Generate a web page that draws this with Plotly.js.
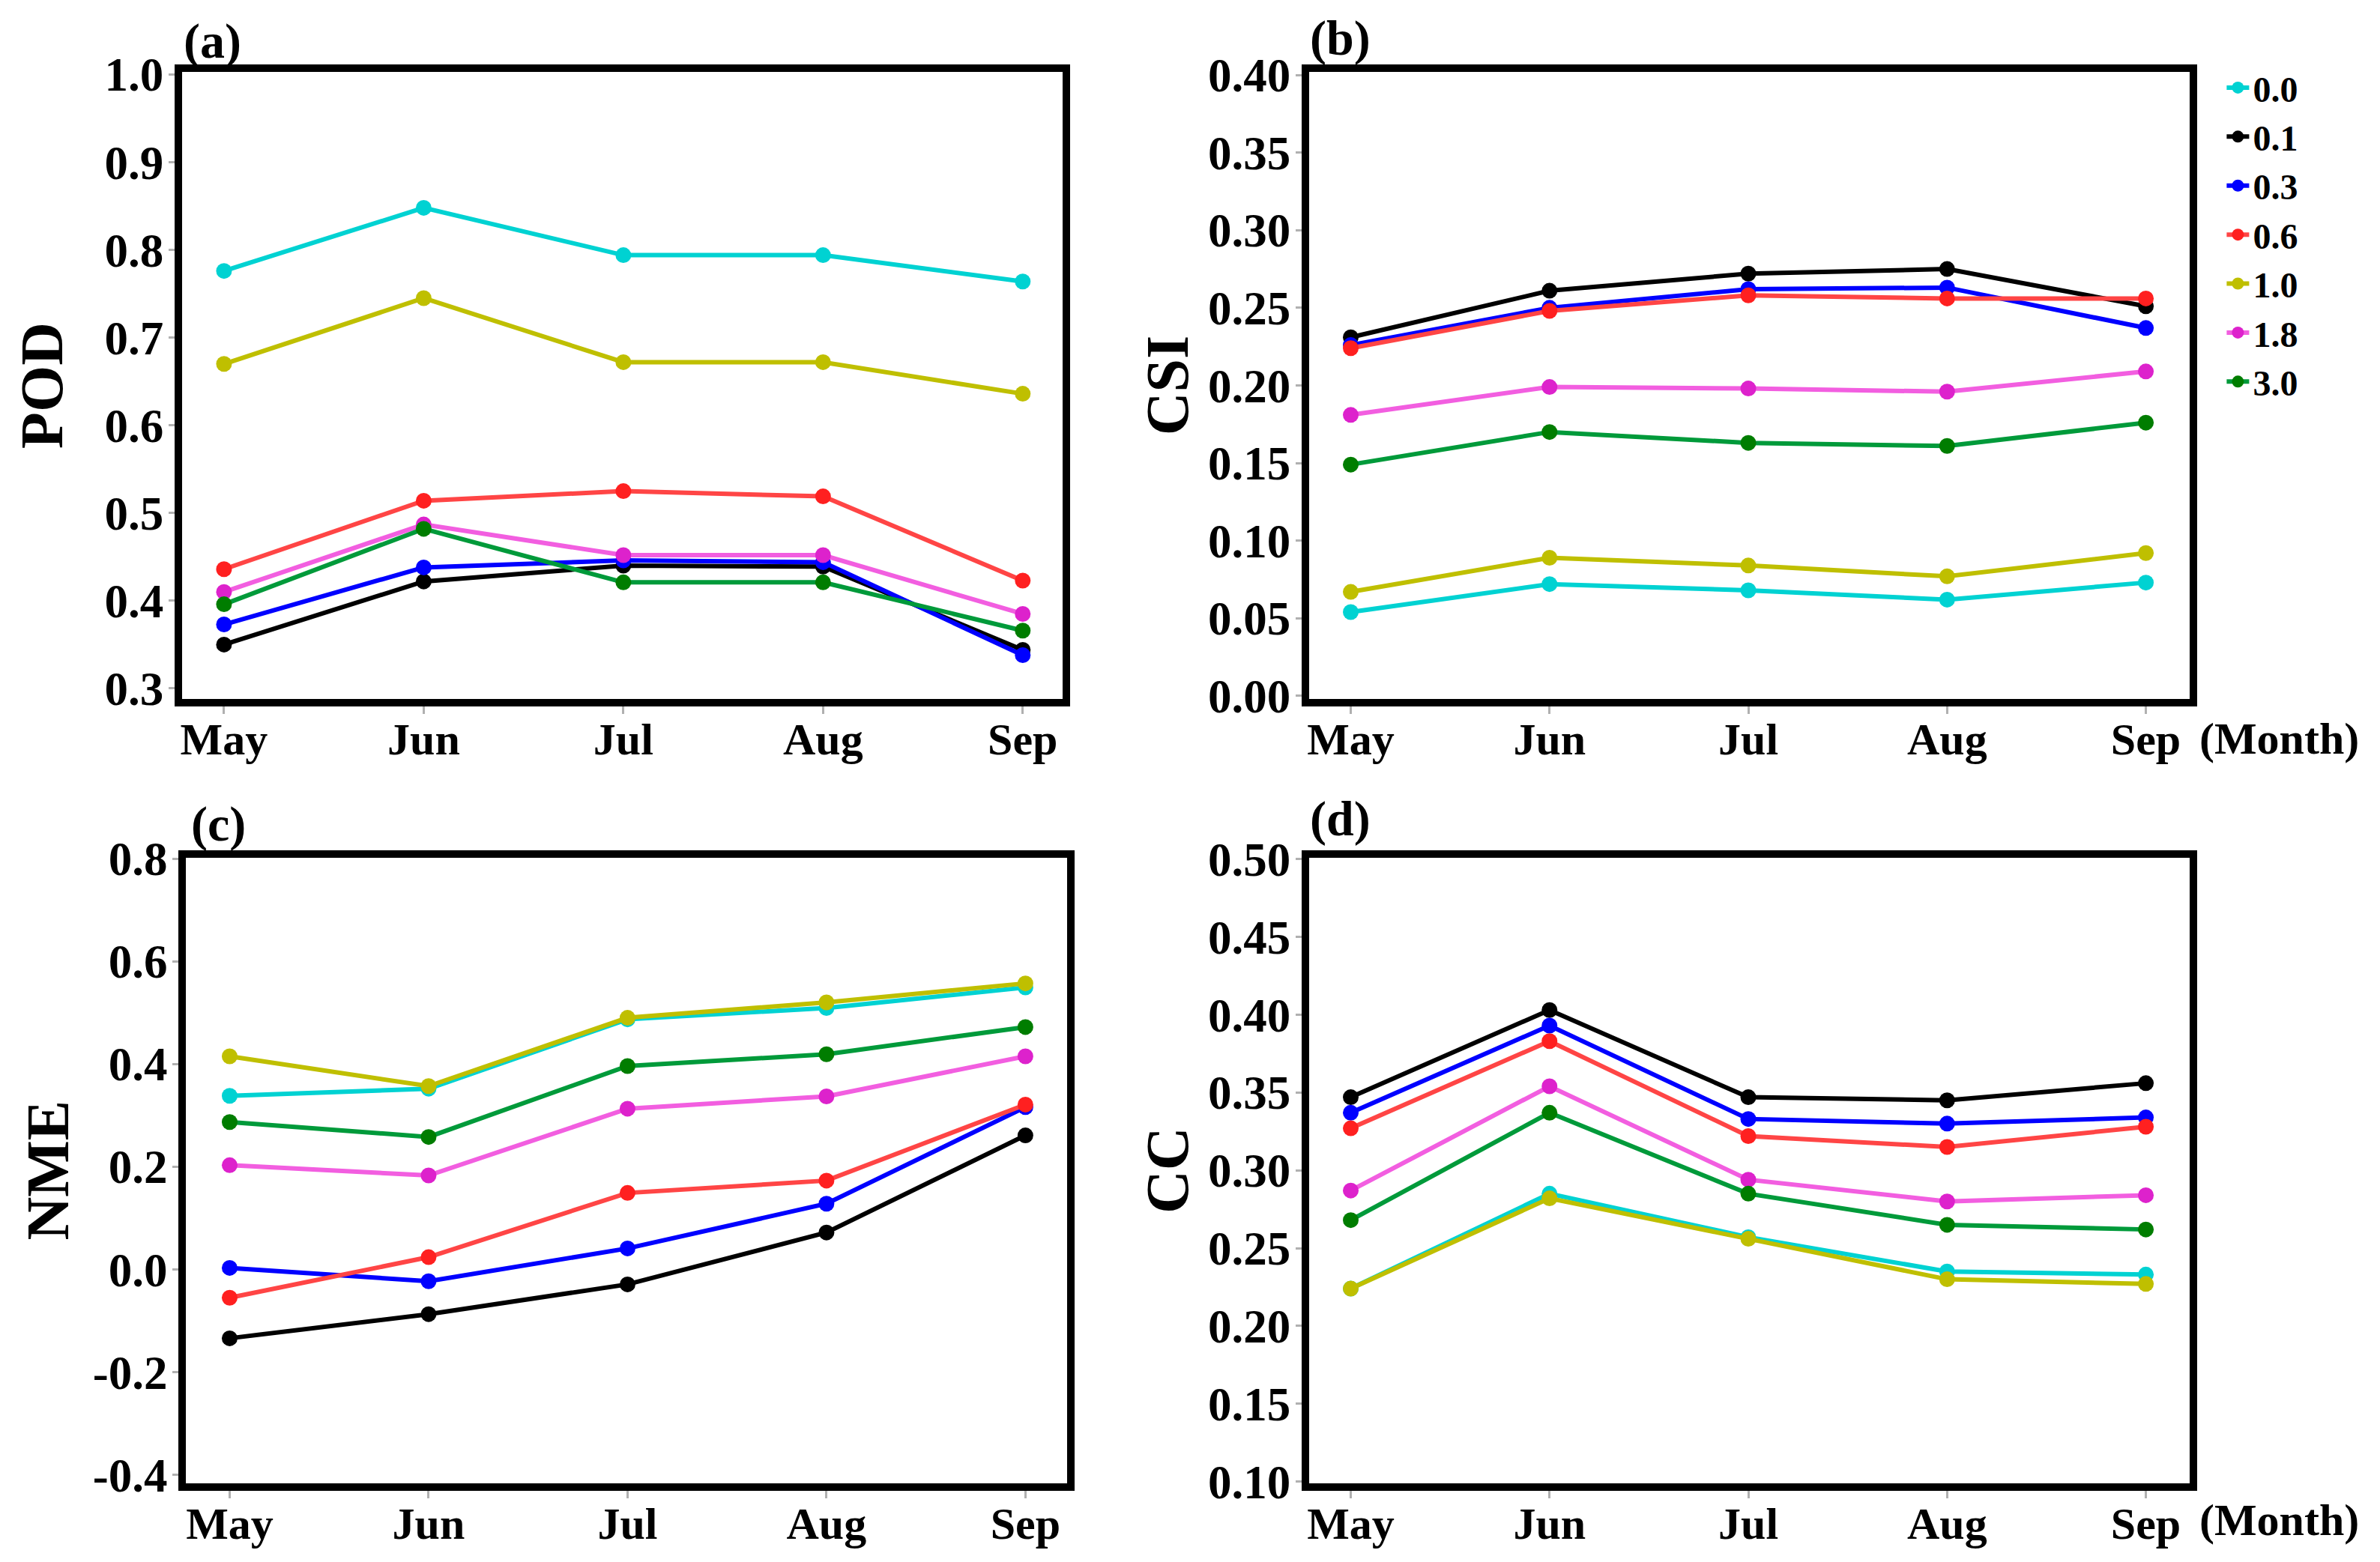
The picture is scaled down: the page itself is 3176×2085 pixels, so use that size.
<!DOCTYPE html>
<html>
<head>
<meta charset="utf-8">
<script src="https://cdn.plot.ly/plotly-3.0.1.min.js"></script>
<style>html,body{margin:0;padding:0;background:#fff;}#chart{width:3176px;height:2085px;}</style>
</head>
<body>
<div id="chart"></div>
<script>
// ---- data ----
const months = ['May', 'Jun', 'Jul', 'Aug', 'Sep'];
const thresholds = ['0.0', '0.1', '0.3', '0.6', '1.0', '1.8', '3.0'];

// (a) POD
const pod_00 = [0.776, 0.848, 0.794, 0.794, 0.764];
const pod_01 = [0.350, 0.422, 0.440, 0.439, 0.344];
const pod_03 = [0.373, 0.438, 0.446, 0.444, 0.338];
const pod_06 = [0.436, 0.514, 0.525, 0.519, 0.423];
const pod_10 = [0.670, 0.745, 0.672, 0.672, 0.636];
const pod_18 = [0.410, 0.487, 0.452, 0.452, 0.385];
const pod_30 = [0.396, 0.482, 0.421, 0.421, 0.366];

// (b) CSI
const csi_00 = [0.054, 0.072, 0.068, 0.062, 0.073];
const csi_01 = [0.231, 0.261, 0.272, 0.275, 0.251];
const csi_03 = [0.226, 0.250, 0.262, 0.263, 0.237];
const csi_06 = [0.224, 0.248, 0.258, 0.256, 0.256];
const csi_10 = [0.067, 0.089, 0.084, 0.077, 0.092];
const csi_18 = [0.181, 0.199, 0.198, 0.196, 0.209];
const csi_30 = [0.149, 0.170, 0.163, 0.161, 0.176];

// (c) NME
const nme_00 = [0.338, 0.352, 0.487, 0.509, 0.549];
const nme_01 = [-0.134, -0.087, -0.029, 0.072, 0.261];
const nme_03 = [0.003, -0.023, 0.041, 0.128, 0.316];
const nme_06 = [-0.055, 0.024, 0.149, 0.173, 0.321];
const nme_10 = [0.415, 0.357, 0.490, 0.520, 0.557];
const nme_18 = [0.203, 0.183, 0.313, 0.337, 0.415];
const nme_30 = [0.287, 0.258, 0.396, 0.419, 0.472];

// (d) CC
const cc_00 = [0.224, 0.285, 0.257, 0.235, 0.233];
const cc_01 = [0.347, 0.403, 0.347, 0.345, 0.356];
const cc_03 = [0.337, 0.393, 0.333, 0.330, 0.334];
const cc_06 = [0.327, 0.383, 0.322, 0.315, 0.328];
const cc_10 = [0.224, 0.282, 0.256, 0.230, 0.227];
const cc_18 = [0.287, 0.354, 0.294, 0.280, 0.284];
const cc_30 = [0.268, 0.337, 0.285, 0.265, 0.262];

// tick labels
const podTicks = [0.3, 0.4, 0.5, 0.6, 0.7, 0.8, 0.9, 1.0];
const podTickText = ['0.3', '0.4', '0.5', '0.6', '0.7', '0.8', '0.9', '1.0'];
const csiTicks = [0.00, 0.05, 0.10, 0.15, 0.20, 0.25, 0.30, 0.35, 0.40];
const csiTickText = ['0.00', '0.05', '0.10', '0.15', '0.20', '0.25', '0.30', '0.35', '0.40'];
const nmeTicks = [-0.4, -0.2, 0.0, 0.2, 0.4, 0.6, 0.8];
const nmeTickText = ['-0.4', '-0.2', '0.0', '0.2', '0.4', '0.6', '0.8'];
const ccTicks = [0.10, 0.15, 0.20, 0.25, 0.30, 0.35, 0.40, 0.45, 0.50];
const ccTickText = ['0.10', '0.15', '0.20', '0.25', '0.30', '0.35', '0.40', '0.45', '0.50'];

// ---- styles ----
const lineColors = ['#00d2d2', '#000000', '#0000ff', '#ff4545', '#bfbf00', '#f25ee0', '#009a3a'];
const markerColors = ['#00d2d2', '#000000', '#0000ff', '#ff2020', '#bfbf00', '#dd22cc', '#007d00'];
const FONT = 'Liberation Serif, Times New Roman, serif';

const panels = [
  {series: [pod_00, pod_01, pod_03, pod_06, pod_10, pod_18, pod_30], xa: 'x', ya: 'y'},
  {series: [csi_00, csi_01, csi_03, csi_06, csi_10, csi_18, csi_30], xa: 'x2', ya: 'y2'},
  {series: [nme_00, nme_01, nme_03, nme_06, nme_10, nme_18, nme_30], xa: 'x3', ya: 'y3'},
  {series: [cc_00, cc_01, cc_03, cc_06, cc_10, cc_18, cc_30], xa: 'x4', ya: 'y4'}
];

const traces = [];
panels.forEach((p, pi) => {
  p.series.forEach((vals, si) => {
    traces.push({
      type: 'scatter', mode: 'lines+markers',
      x: months, y: vals, xaxis: p.xa, yaxis: p.ya,
      name: thresholds[si],
      legendgroup: thresholds[si],
      showlegend: pi === 1,
      line: {color: lineColors[si], width: 6},
      marker: {color: markerColors[si], size: 21, symbol: 'circle'},
      cliponaxis: false
    });
  });
});

function xAxis(domain, range, anchor) {
  return {
    domain: domain, type: 'category', range: range, anchor: anchor,
    showline: true, mirror: true, linecolor: '#000', linewidth: 10,
    ticks: 'outside', ticklen: 10, tickwidth: 3, tickcolor: '#b0b0b0',
    showgrid: false, zeroline: false, fixedrange: true,
    tickfont: {family: FONT, size: 60, color: '#000', weight: 'bold'},
    ticklabelstandoff: -18
  };
}
function yAxis(domain, range, tv, tt, title, anchor, standoff) {
  return {
    domain: domain, range: range, anchor: anchor,
    tickmode: 'array', tickvals: tv, ticktext: tt,
    showline: true, mirror: true, linecolor: '#000', linewidth: 10,
    ticks: 'outside', ticklen: 8, tickwidth: 3, tickcolor: '#b0b0b0',
    showgrid: false, zeroline: false, fixedrange: true,
    tickfont: {family: FONT, size: 63, color: '#000', weight: 'bold'},
    ticklabelstandoff: -6,
    title: {text: title, font: {family: FONT, size: 80, color: '#000', weight: 'bold'}, standoff: standoff}
  };
}

const yTop = [0.5525, 0.9540];
const yBot = [0.0505, 0.4510];

const layout = {
  width: 3176, height: 2085,
  margin: {l: 0, r: 0, t: 0, b: 0},
  paper_bgcolor: '#fff', plot_bgcolor: '#fff',
  showlegend: true,
  legend: {
    x: 0.934, y: 0.962, xanchor: 'left', yanchor: 'top',
    font: {family: FONT, size: 48, color: '#000', weight: 'bold'},
    bgcolor: 'rgba(0,0,0,0)', borderwidth: 0,
    tracegroupgap: 0, itemwidth: 30
  },
  xaxis: xAxis([0.0765, 0.4465], [-0.21, 4.2], 'y'),
  yaxis: yAxis(yTop, [0.288, 1.003], podTicks, podTickText, 'POD', 'x', 34),
  xaxis2: xAxis([0.5500, 0.9200], [-0.21, 4.22], 'y2'),
  yaxis2: yAxis(yTop, [-0.002, 0.402], csiTicks, csiTickText, 'CSI', 'x2', 4),
  xaxis3: xAxis([0.0781, 0.4484], [-0.22, 4.21], 'y3'),
  yaxis3: yAxis(yBot, [-0.416, 0.802], nmeTicks, nmeTickText, 'NME', 'x3', 10),
  xaxis4: xAxis([0.5500, 0.9200], [-0.21, 4.22], 'y4'),
  yaxis4: yAxis(yBot, [0.099, 0.501], ccTicks, ccTickText, 'CC', 'x4', 4),
  annotations: [
    {text: '(a)', xref: 'paper', yref: 'paper', x: 0.0765, y: 0.9736, xanchor: 'left', yanchor: 'middle', showarrow: false, font: {family: FONT, size: 66, color: '#000', weight: 'bold'}},
    {text: '(b)', xref: 'paper', yref: 'paper', x: 0.5498, y: 0.9755, xanchor: 'left', yanchor: 'middle', showarrow: false, font: {family: FONT, size: 66, color: '#000', weight: 'bold'}},
    {text: '(c)', xref: 'paper', yref: 'paper', x: 0.0797, y: 0.4724, xanchor: 'left', yanchor: 'middle', showarrow: false, font: {family: FONT, size: 66, color: '#000', weight: 'bold'}},
    {text: '(d)', xref: 'paper', yref: 'paper', x: 0.5498, y: 0.4758, xanchor: 'left', yanchor: 'middle', showarrow: false, font: {family: FONT, size: 66, color: '#000', weight: 'bold'}},
    {text: '(Month)', xref: 'paper', yref: 'paper', x: 0.9575, y: 0.527, xanchor: 'center', yanchor: 'middle', showarrow: false, font: {family: FONT, size: 60, color: '#000', weight: 'bold'}},
    {text: '(Month)', xref: 'paper', yref: 'paper', x: 0.9575, y: 0.0269, xanchor: 'center', yanchor: 'middle', showarrow: false, font: {family: FONT, size: 60, color: '#000', weight: 'bold'}}
  ]
};

Plotly.newPlot('chart', traces, layout, {staticPlot: true, displayModeBar: false});
</script>
</body>
</html>
